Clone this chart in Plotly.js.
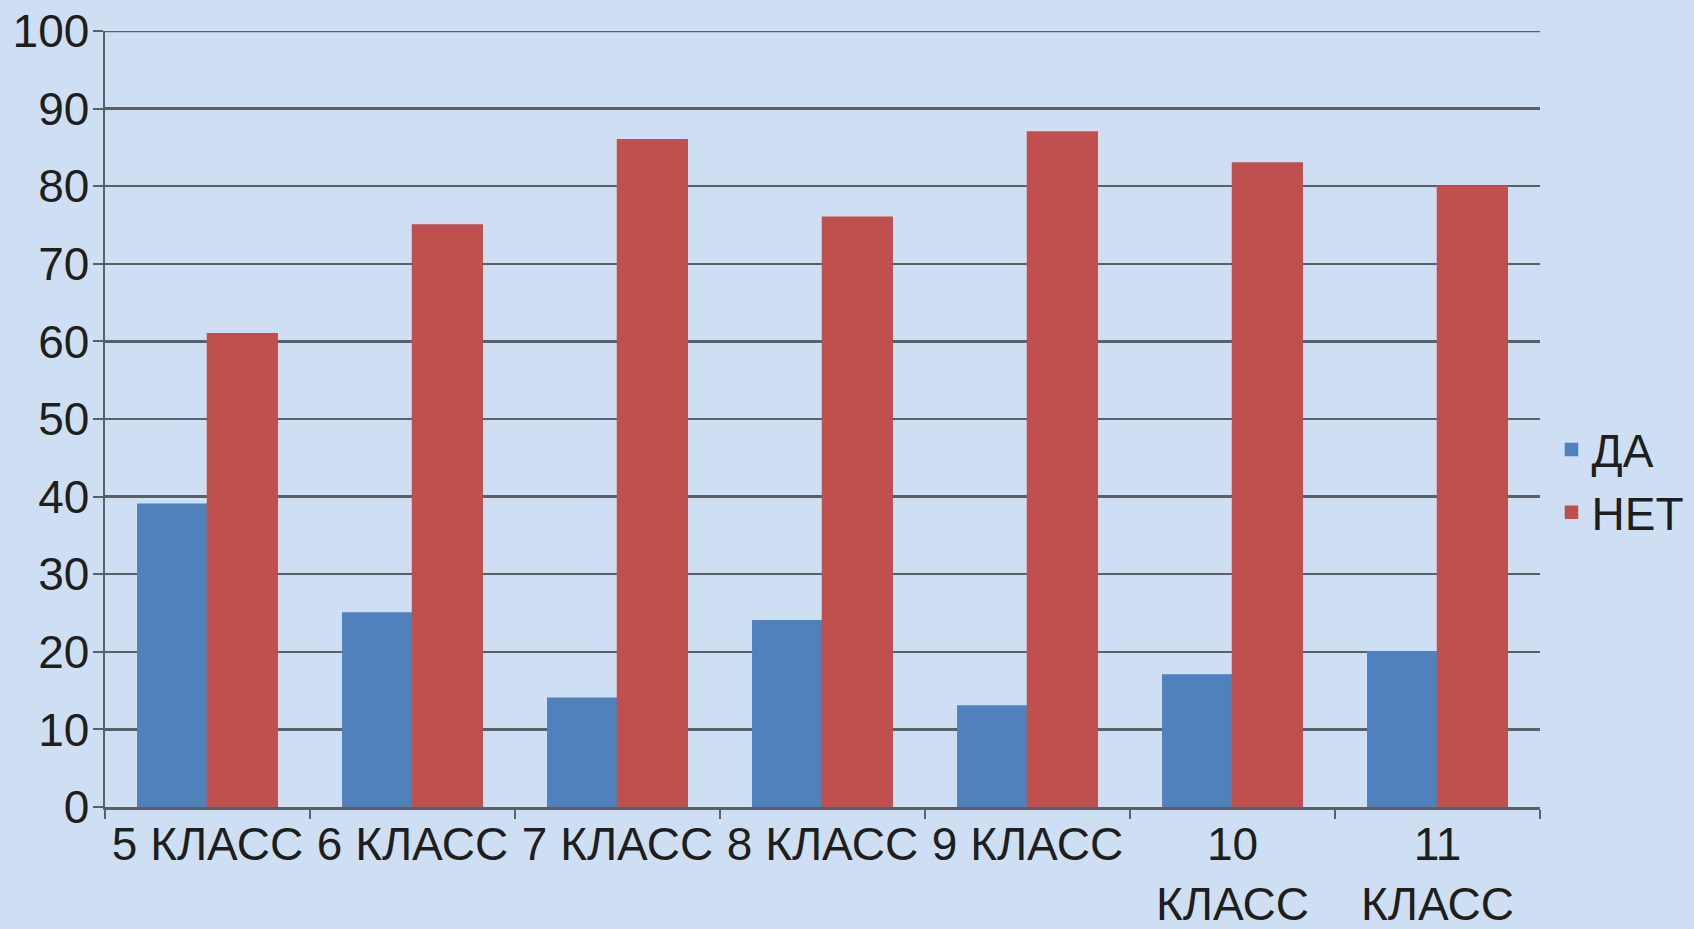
<!DOCTYPE html>
<html>
<head>
<meta charset="utf-8">
<script src="https://cdn.plot.ly/plotly-3.0.1.min.js"></script>
<style>
  html, body { margin: 0; padding: 0; background: #cfdff3; }
  #myDiv { width: 1694px; height: 929px; }
</style>
</head>
<body>
<div id="myDiv"></div>
<script>
// classes and survey answers (%)
var classes = ['5 КЛАСС', '6 КЛАСС', '7 КЛАСС', '8 КЛАСС', '9 КЛАСС', '10 КЛАСС', '11 КЛАСС'];
var classLabels = ['5 КЛАСС', '6 КЛАСС', '7 КЛАСС', '8 КЛАСС', '9 КЛАСС', '10<br>КЛАСС', '11<br>КЛАСС'];
var da = [39, 25, 14, 24, 13, 17, 20];
var net = [61, 75, 86, 76, 87, 83, 80];

var trace1 = {
    x: classes,
    y: da,
    type: 'bar',
    name: 'ДА',
    marker: { color: '#4f81bd', line: { color: '#4f81bd', width: 1.5 } }
};

var trace2 = {
    x: classes,
    y: net,
    type: 'bar',
    name: 'НЕТ',
    marker: { color: '#c0504d', line: { color: '#c0504d', width: 1.5 } }
};

var data = [trace1, trace2];

var gridCol = '#5a6068';

var layout = {
    width: 1694,
    height: 929,
    margin: { l: 105, r: 154, t: 31, b: 122, autoexpand: false },
    paper_bgcolor: '#cfdff3',
    plot_bgcolor: 'rgba(0,0,0,0)',
    font: { family: 'Liberation Sans, Arial, sans-serif', size: 46, color: '#1e1e1e' },
    barmode: 'group',
    bargap: 0.32,
    bargroupgap: 0,
    xaxis: {
        tickvals: classes,
        ticktext: classLabels,
        tickangle: 0,
        tickson: 'boundaries',
        ticks: 'outside',
        ticklen: 9,
        tickwidth: 2,
        tickcolor: gridCol,
        showline: true,
        linecolor: gridCol,
        linewidth: 2.5,
        showgrid: false,
        automargin: false,
        ticklabelstandoff: -5,
        tickfont: { size: 46 }
    },
    yaxis: {
        range: [0, 100],
        dtick: 10,
        ticks: 'outside',
        ticklen: 10,
        tickwidth: 2,
        tickcolor: gridCol,
        showline: true,
        linecolor: gridCol,
        linewidth: 2.5,
        gridcolor: gridCol,
        gridwidth: 2.5,
        zeroline: false,
        automargin: false,
        ticklabelstandoff: -6,
        tickfont: { size: 46 }
    },
    // top gridline at 100 (plotly skips the grid at the range edge)
    shapes: [{
        type: 'line', xref: 'paper', yref: 'y',
        x0: 0, x1: 1, y0: 100, y1: 100,
        line: { color: gridCol, width: 2.5 }
    }],
    legend: {
        x: 1.008,
        xanchor: 'left',
        y: 0.42,
        yanchor: 'middle',
        bgcolor: 'rgba(0,0,0,0)',
        font: { size: 46 },
        tracegroupgap: 0
    },
    showlegend: true
};

Plotly.newPlot('myDiv', data, layout, { displayModeBar: false, staticPlot: true });
</script>
</body>
</html>
